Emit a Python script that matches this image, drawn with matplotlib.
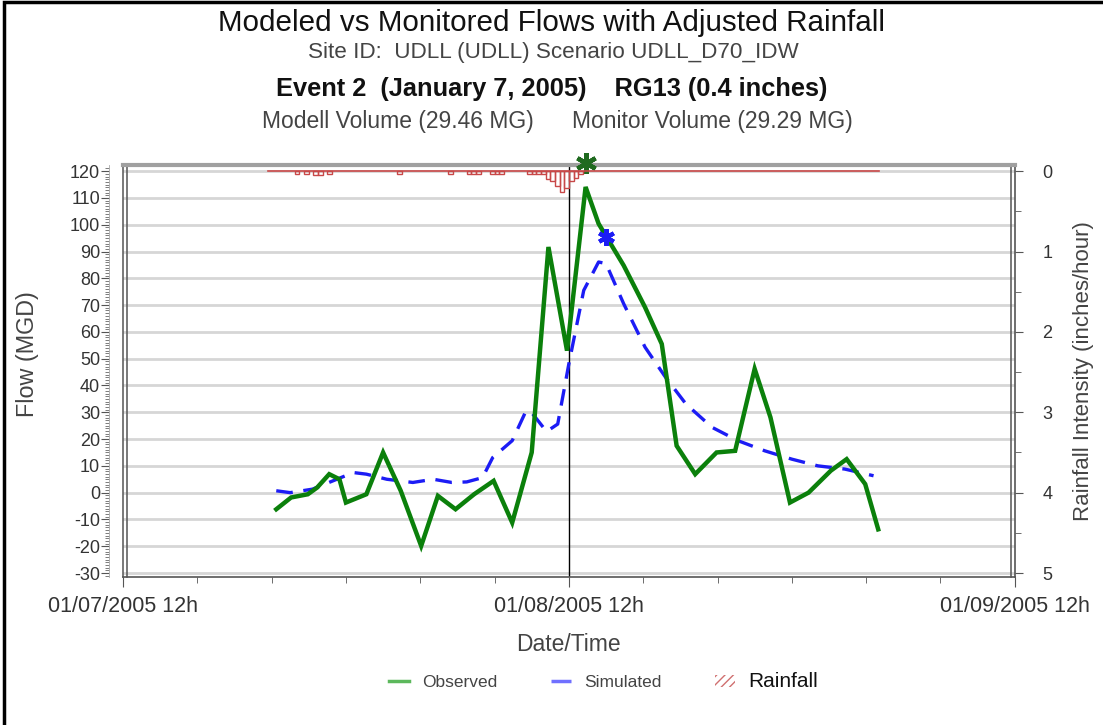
import matplotlib
matplotlib.use("Agg")
import matplotlib.pyplot as plt
from matplotlib.lines import Line2D
from matplotlib.patches import Patch, Rectangle
import numpy as np

plt.rcParams['font.family'] = ['Liberation Sans', 'DejaVu Sans']
plt.rcParams['axes.unicode_minus'] = False

# ---- data (hours after 01/07/2005 12h) ----
obs_hours = [8.25, 9.05, 9.95, 10.45, 11.1, 11.65, 12.0, 13.1, 14.0, 14.95, 16.05, 16.95,
             17.9, 18.9, 19.95, 20.95, 22.0, 22.9, 23.9, 24.9, 25.6, 26.95, 28.1, 29.0,
             29.8, 30.8, 31.95, 32.95, 34.0, 34.85, 35.9, 36.9, 38.1, 38.95, 39.95, 40.65]
obs_flow = [-6.2, -1.8, -0.6, 1.9, 6.9, 5.0, -3.7, -0.6, 15.0, 0.7, -19.9, -1.2,
            -6.2, -0.6, 4.4, -11.2, 15.0, 91.7, 53.0, 114.1, 100.4, 84.8, 69.2, 55.5,
            17.5, 6.9, 15.0, 15.6, 46.2, 28.1, -3.7, 0.0, 8.2, 12.5, 3.2, -13.7]

sim_hours = [8.25, 9.0, 10.2, 11.3, 12.4, 13.1, 14.2, 15.6, 16.7, 17.7, 18.5, 19.35,
             19.9, 20.95, 21.7, 22.05, 22.8, 23.4, 24.0, 24.8, 25.6, 26.0, 26.95, 28.1,
             29.2, 30.3, 31.7, 33.1, 34.55, 36.0, 37.4, 38.85, 40.4]
sim_flow = [0.7, 0.0, 1.3, 4.4, 7.5, 6.9, 5.0, 3.8, 5.0, 3.8, 4.0, 5.6,
            13.1, 19.4, 30.6, 29.4, 22.8, 25.6, 48.1, 75.5, 86.1, 85.5, 70.5, 54.3,
            43.1, 33.1, 24.4, 19.4, 15.6, 12.5, 10.0, 8.8, 6.3]

obs_peak = (24.9, 123.0)
sim_peak = (26.0, 95.5)

rain_start = [9.25, 9.75, 10.25, 10.5, 11.0, 14.75, 17.5, 18.5, 18.75, 19.0, 19.75, 20.0,
              20.25, 21.75, 22.0, 22.25, 22.5, 22.75, 23.0, 23.25, 23.5, 23.75, 24.0, 24.25, 24.5]
rain_rate = [0.04, 0.04, 0.05, 0.05, 0.04, 0.04, 0.04, 0.04, 0.04, 0.04, 0.04, 0.04,
             0.04, 0.04, 0.04, 0.04, 0.04, 0.10, 0.12, 0.18, 0.26, 0.21, 0.12, 0.08, 0.04]
rain_span = [7.8, 40.7]

xtick_hours = [0, 24, 48]
xtick_labels = ["01/07/2005 12h", "01/08/2005 12h", "01/09/2005 12h"]

# ---- figure ----
fig = plt.figure(figsize=(11.03, 7.25), dpi=100)
fig.patch.set_facecolor('white')
fig.add_artist(Rectangle((0.004, -0.01), 1.2, 1.007, transform=fig.transFigure,
                         fill=False, edgecolor='black', linewidth=2.5))

ax = fig.add_axes([0.1115, 0.2041, 0.8085, 0.5683])
ax.set_xlim(0, 48)
ax.set_ylim(-31.5, 122.3)

ax.set_yticks(np.arange(-30, 121, 10))
ax.set_yticks(np.arange(-31, 122, 1), minor=True)
ax.set_xticks(xtick_hours)
ax.set_xticklabels(xtick_labels)
ax.set_xticks(np.arange(0, 49, 4), minor=True)
ax.grid(axis='y', which='major', color='#d6d6d6', linewidth=2)
ax.set_axisbelow(True)

ax.axvline(24, color='black', linewidth=1, zorder=2)

ax.plot(obs_hours, obs_flow, color='#0b800b', linewidth=3.2, zorder=4, solid_joinstyle='miter')
ax.plot(sim_hours, sim_flow, color='#1c1cf5', linewidth=2.4, dashes=(5, 3.2), zorder=3)
ax.plot([obs_peak[0]], [obs_peak[1]], marker=(6, 2, 0), markersize=15, markeredgewidth=3.2,
        color='#1f6a1f', clip_on=False, zorder=6)
ax.plot([sim_peak[0]], [sim_peak[1]], marker=(6, 2, 0), markersize=12, markeredgewidth=3,
        color='#1c1cf5', clip_on=False, zorder=6)

# left tick column sits slightly outside the plot box
ax.spines['left'].set_position(('outward', 10))
ax.spines['left'].set_color('#aaaaaa')
ax.spines['left'].set_linewidth(0.6)
for sp in ['right', 'bottom']:
    ax.spines[sp].set_color('#555555')
    ax.spines[sp].set_linewidth(1.2)
ax.spines['top'].set_color('#a0a0a0')
ax.spines['top'].set_linewidth(3)

ax.tick_params(axis='y', which='major', length=6, color='#555555', labelsize=13,
               labelcolor='#333333', pad=0.5)
ax.tick_params(axis='y', which='minor', length=3, color='#666666', width=0.6)
ax.tick_params(axis='x', which='major', length=7, color='#555555', labelsize=15.5,
               labelcolor='#333333', pad=7)
ax.tick_params(axis='x', which='minor', length=4, color='#555555')

# plot-box double lines
for xa in (0.0, 0.0045, 0.9955):
    ax.add_line(Line2D([xa, xa], [0, 1], transform=ax.transAxes, color='#555555', lw=1.1,
                       clip_on=False))

ax.set_ylabel("Flow (MGD)", fontsize=16.8, color='#444444')
ax.yaxis.set_label_coords(-0.094, 0.54)
ax.set_xlabel("Date/Time", fontsize=16.5, color='#444444', labelpad=11)

# rainfall axis (inverted)
ax2 = ax.twinx()
lo, hi = ax.get_ylim()
ax2.set_ylim((120 - lo) / 30.0, (120 - hi) / 30.0)
ax2.set_yticks([0, 1, 2, 3, 4, 5])
ax2.set_yticks(np.arange(0, 5.01, 0.5), minor=True)
ax2.tick_params(axis='y', which='major', length=6, color='#555555', labelsize=13,
                labelcolor='#333333', pad=14)
ax2.tick_params(axis='y', which='minor', length=4, color='#555555')
for sp in ax2.spines.values():
    sp.set_visible(False)
ax2.plot(rain_span, [0, 0], color='#c84848', linewidth=1.2, zorder=3)
ax2.bar(rain_start, rain_rate, width=0.25, align='edge', fill=False,
        edgecolor='#c84848', linewidth=1.0, zorder=3)
ax2.set_ylabel("Rainfall Intensity (inches/hour)", fontsize=16, color='#444444')
ax2.yaxis.set_label_coords(1.065, 0.5)

# titles
fig.text(0.5, 0.968, "Modeled vs Monitored Flows with Adjusted Rainfall", ha='center', va='center',
         fontsize=21.3, color='#111111')
fig.text(0.502, 0.927, "Site ID:  UDLL (UDLL) Scenario UDLL_D70_IDW", ha='center', va='center',
         fontsize=16.2, color='#444444')
fig.text(0.5, 0.877, "Event 2  (January 7, 2005)    RG13 (0.4 inches)", ha='center', va='center',
         fontsize=18.3, color='#111111', fontweight='bold')
fig.text(0.505, 0.833, "Modell Volume (29.46 MG)      Monitor Volume (29.29 MG)", ha='center', va='center',
         fontsize=16.5, color='#444444')

# legend
handles = [Line2D([], [], color='#5cb85c', linewidth=2.5),
           Line2D([], [], color='#7070ff', linewidth=2.5, linestyle='-.'),
           Patch(facecolor='white', edgecolor='#d07070', hatch='////', linewidth=0)]
leg = fig.legend(handles, ["Observed", "Simulated", "Rainfall"], loc='center',
                 bbox_to_anchor=(0.547, 0.06), ncol=3, frameon=False, fontsize=12.5,
                 handlelength=1.15, columnspacing=3.1, handletextpad=0.75)
texts = leg.get_texts()
texts[0].set_color('#444444')
texts[1].set_color('#444444')
texts[2].set_color('#111111')
texts[2].set_fontsize(15)

fig.savefig("out.png", dpi=100, facecolor='white')
